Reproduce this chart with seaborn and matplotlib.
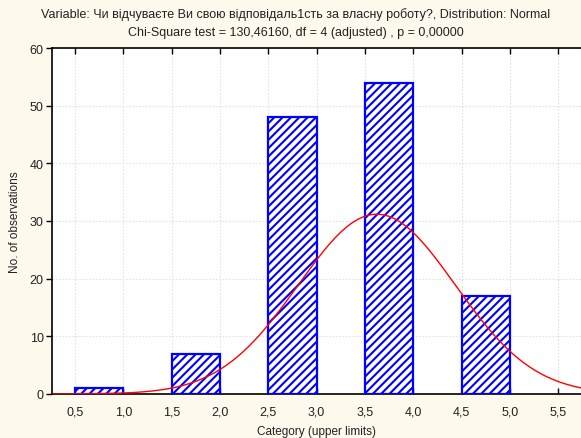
import numpy as np
import pandas as pd
import matplotlib
matplotlib.use("Agg")
import matplotlib.pyplot as plt
import seaborn as sns

# Data
lower_limits = [0.5, 1.5, 2.5, 3.5, 4.5]
upper_limits = [1.0, 2.0, 3.0, 4.0, 5.0]
counts = [1, 7, 48, 54, 17]
category_values = [1, 2, 3, 4, 5]
x_ticks = [0.5, 1.0, 1.5, 2.0, 2.5, 3.0, 3.5, 4.0, 4.5, 5.0, 5.5]
x_tick_labels = ["0,5", "1,0", "1,5", "2,0", "2,5", "3,0", "3,5", "4,0", "4,5", "5,0", "5,5"]
y_ticks = [0, 10, 20, 30, 40, 50, 60]

title1 = "Variable: Чи відчуваєте Ви свою відповідаль1сть за власну роботу?, Distribution: Normal"
title2 = "Chi-Square test = 130,46160, df = 4 (adjusted) , p = 0,00000"

sns.set_style("white")
plt.rcParams['font.family'] = ['Liberation Sans', 'DejaVu Sans']
plt.rcParams['hatch.linewidth'] = 1.5
plt.rcParams['hatch.color'] = 'blue'

bg = '#FEF9ED'
fig = plt.figure(figsize=(5.81, 4.39), dpi=100, facecolor=bg)
ax = fig.add_axes([52/581, 1-395/439, 1-52/581, (395-49)/439])
ax.set_facecolor('white')

centers = [(l + u) / 2 for l, u in zip(lower_limits, upper_limits)]
df = pd.DataFrame({"x": centers, "n": counts})
sns.barplot(data=df, x="x", y="n", native_scale=True, width=0.5,
            color='white', edgecolor='blue', linewidth=1.6, hatch='////',
            ax=ax, zorder=3)
for p in ax.patches:
    p.set_facecolor('white')
    p.set_hatch('////')
    p.set_edgecolor('blue')

# Fitted normal curve from observed data
vals = np.repeat(category_values, counts)
N = len(vals)
mu = vals.mean()
sd = vals.std()
bw = 0.5
xs = np.linspace(0.26, 5.74, 300)
ys = N * bw * np.exp(-0.5 * ((xs - mu) / sd) ** 2) / (sd * np.sqrt(2 * np.pi))
sns.lineplot(x=xs, y=ys, color='red', linewidth=1.0, ax=ax, zorder=4)

ax.set_xlim(0.262, 5.735)
ax.set_ylim(0, 60)
ax.set_xticks(x_ticks)
ax.set_xticklabels(x_tick_labels)
ax.set_yticks(y_ticks)
ax.grid(True, color='#e2e2e2', linestyle=(0, (1.5, 1.5)), linewidth=0.8, zorder=0)
ax.set_axisbelow(True)

for s in ['left', 'bottom', 'top']:
    ax.spines[s].set_visible(True)
    ax.spines[s].set_color('black')
    ax.spines[s].set_linewidth(1.2)
ax.spines['right'].set_visible(False)

ax.tick_params(axis='x', direction='in', length=4, width=1, labelsize=9,
               top=True, bottom=True, pad=8, colors='black')
ax.tick_params(axis='y', direction='out', length=4, width=1, labelsize=9,
               left=True, pad=2, colors='black')
for lab in ax.get_xticklabels() + ax.get_yticklabels():
    lab.set_color('#222222')

ax.set_xlabel("Category (upper limits)", fontsize=8.5, labelpad=6, color='#222222')
ax.set_ylabel("No. of observations", fontsize=8.5, labelpad=6, color='#222222')

fig.text(296/581, 1-15/439, title1, ha='center', va='center', fontsize=9, color='#222222')
fig.text(296/581, 1-33/439, title2, ha='center', va='center', fontsize=9, color='#222222')

fig.savefig("out.png", dpi=100, facecolor=bg)
